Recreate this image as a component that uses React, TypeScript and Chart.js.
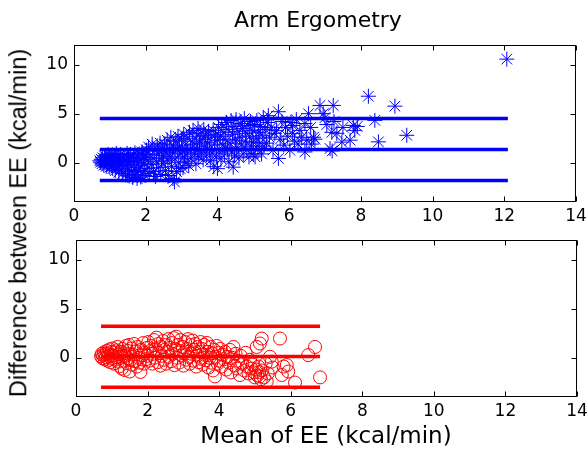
import React, { useEffect, useRef } from 'react';
import { Chart, registerables } from 'chart.js';

Chart.register(...registerables);

const TITLE = 'Arm Ergometry';
const X_LABEL = 'Mean of EE (kcal/min)';
const Y_LABEL = 'Difference between EE (kcal/min)';

const X_TICKS = [0, 2, 4, 6, 8, 10, 12, 14];
const Y_TICKS = [0, 5, 10];
const X_RANGE = [0, 14];
const Y_RANGE = [-4, 12];

// top panel: [mean of EE, difference between EE]
const topPoints: [number, number][] = [
  [0.72, 0.2], [0.74, 0.05], [0.76, 0.35], [0.78, -0.1], [0.8, 0.5], [0.81, 0.15], [0.83, -0.25], [0.85, 0.7],
  [0.86, 0.0], [0.88, 0.3], [0.9, -0.35], [0.91, 0.55], [0.93, 0.1], [0.94, -0.15], [0.95, 0.85], [0.97, 0.4],
  [0.98, -0.05], [0.99, 0.25], [1.0, -0.45], [1.0, 0.65],
  [1.02, 0.1], [1.04, 0.45], [1.05, -0.3], [1.07, 0.8], [1.08, -0.6], [1.1, 0.2], [1.12, 0.55], [1.13, -0.1],
  [1.15, -0.8], [1.17, 0.35], [1.18, 0.95], [1.2, -0.4], [1.22, 0.05], [1.24, 0.6], [1.25, -0.95], [1.27, 0.25],
  [1.29, -0.2], [1.3, 0.85], [1.32, -0.65], [1.34, 0.4], [1.36, -1.1], [1.38, 0.1], [1.4, 0.7], [1.42, -0.35],
  [1.44, -1.25], [1.46, 0.3], [1.48, 0.95], [1.5, -0.75], [1.5, 0.0],
  [1.52, 0.5], [1.54, -1.35], [1.56, -0.2], [1.58, 0.85], [1.6, -0.9], [1.62, 0.2], [1.64, -1.5], [1.66, 0.6],
  [1.68, -0.5], [1.7, 1.0], [1.72, -1.2], [1.74, 0.05], [1.76, -1.6], [1.78, 0.45], [1.8, -0.8], [1.82, 0.9],
  [1.84, -0.3], [1.86, -1.45], [1.88, 0.3], [1.9, 1.1], [1.92, -0.9], [1.94, 0.6], [1.96, -0.1], [1.98, -1.3], [2.0, 0.85],
  [2.02, 1.3], [2.04, -0.6], [2.06, 0.3], [2.08, 1.6], [2.1, -1.1], [2.12, 0.8], [2.15, -0.2], [2.18, 1.9],
  [2.2, 0.5], [2.22, -0.9], [2.25, 1.2], [2.27, -1.4], [2.3, 0.1], [2.32, 1.7], [2.35, -0.5], [2.37, 0.9],
  [2.4, 2.0], [2.42, -1.2], [2.44, 0.4], [2.46, 1.4], [2.48, -0.1], [2.5, 0.7],
  [2.52, 1.9], [2.55, -0.8], [2.57, 1.1], [2.6, 2.3], [2.62, 0.2], [2.64, -1.3], [2.66, 1.5], [2.68, 0.6],
  [2.7, 2.6], [2.72, -0.4], [2.74, 1.0], [2.76, -1.6], [2.78, 1.8], [2.8, -1.95], [2.82, 0.4], [2.84, 2.2],
  [2.86, -0.9], [2.88, 1.3], [2.9, 2.7], [2.92, 0.0], [2.94, 1.6], [2.96, -0.6], [2.98, 0.9], [3.0, 2.4],
  [3.02, 1.2], [3.04, -0.5], [3.06, 2.9], [3.08, 0.6], [3.1, 1.8], [3.12, 0.1], [3.15, 2.5], [3.17, 1.0],
  [3.2, -0.3], [3.22, 3.1], [3.25, 1.5], [3.27, 0.4], [3.3, 2.2], [3.32, 3.3], [3.35, 0.9], [3.37, 1.9],
  [3.4, -0.1], [3.42, 2.7], [3.44, 1.3], [3.46, 3.5], [3.48, 0.6], [3.5, 2.0],
  [3.52, 3.0], [3.55, 1.1], [3.57, 2.4], [3.6, 0.3], [3.62, 3.4], [3.65, 1.7], [3.67, 2.8], [3.7, 0.8],
  [3.72, 2.1], [3.75, 3.2], [3.78, 1.4], [3.8, 0.2], [3.82, 2.6], [3.85, 1.0], [3.88, 3.3], [3.9, -0.4],
  [3.92, 1.9], [3.95, 2.9], [3.97, 0.6], [4.0, -0.6], [4.0, 2.3],
  [4.03, 3.6], [4.05, 1.2], [4.08, 2.7], [4.1, 0.4], [4.12, 3.9], [4.15, 1.8], [4.18, 3.1], [4.2, 0.9],
  [4.22, 2.4], [4.25, 4.1], [4.28, 1.5], [4.3, 3.4], [4.32, 0.1], [4.35, 2.0], [4.38, 4.3], [4.4, 1.1],
  [4.42, 2.9], [4.44, -0.45], [4.46, 3.7], [4.48, 0.7], [4.5, 2.3],
  [4.52, 4.4], [4.54, 1.6], [4.57, 3.2], [4.6, 0.5], [4.62, 2.6], [4.65, 4.0], [4.68, 1.9], [4.7, 3.5],
  [4.72, 0.9], [4.75, 4.5], [4.78, 2.2], [4.8, 3.0], [4.82, 1.3], [4.85, 3.8], [4.88, 0.6], [4.9, 2.7],
  [4.92, 4.2], [4.95, 1.7], [4.97, 3.3], [5.0, 0.9], [5.0, 2.1],
  [5.03, 3.9], [5.05, 0.6], [5.08, 2.5], [5.1, 4.3], [5.13, 1.4], [5.15, 3.1], [5.18, 2.0], [5.2, 3.7],
  [5.23, 0.9], [5.25, 2.8], [5.28, 4.6], [5.3, 1.7], [5.33, 3.4], [5.37, 2.0], [5.4, 4.1], [5.42, 4.8],
  [5.45, 2.6], [5.5, 3.6], [5.55, 1.3], [5.6, 3.0],
  [5.65, 3.3], [5.7, 0.44], [5.7, 5.2], [5.75, 2.4], [5.8, 4.2], [5.85, 1.8], [5.9, 3.6], [5.95, 2.7],
  [6.02, 1.28], [6.05, 4.1], [6.1, 3.0], [6.1, 3.8], [6.15, 2.2], [6.2, 4.4], [6.25, 1.9], [6.3, 3.3],
  [6.35, 2.6], [6.44, 1.1], [6.44, 4.0], [6.49, 2.3], [6.54, 5.0],
  [6.6, 3.6], [6.62, 1.9], [6.68, 2.6], [6.72, 2.4], [6.86, 5.84], [6.95, 5.0], [7.0, 4.6], [7.05, 3.9],
  [7.14, 1.45], [7.19, 3.1], [7.2, 1.2], [7.23, 5.84], [7.25, 4.2], [7.33, 3.0], [7.47, 2.1], [7.5, 3.6],
  [7.7, 2.3], [7.79, 3.81], [7.83, 3.3], [7.9, 3.7], [8.21, 6.78], [8.39, 4.32], [8.49, 2.13], [8.95, 5.77],
  [9.28, 2.8], [12.07, 10.56],
];
const topLimits = [4.5, 1.35, -1.8];
const topLineX = [0.72, 12.1];

// bottom panel: [mean of EE, difference between EE]
const bottomPoints: [number, number][] = [
  [0.7, 0.15], [0.72, 0.4], [0.74, -0.05], [0.76, 0.25], [0.78, 0.55], [0.8, -0.15], [0.82, 0.35], [0.84, 0.05],
  [0.86, 0.7], [0.88, -0.3], [0.9, 0.45], [0.92, 0.15], [0.94, 0.85], [0.96, -0.45], [0.98, 0.3], [1.0, 0.6], [1.0, -0.1],
  [1.02, 0.95], [1.04, 0.2], [1.06, -0.6], [1.08, 0.5], [1.1, -0.2], [1.12, 0.75], [1.14, 0.05], [1.16, 1.1],
  [1.18, -0.4], [1.2, 0.35], [1.22, -0.85], [1.24, 0.6], [1.26, 0.1], [1.28, -1.1], [1.3, 0.9], [1.32, -0.3],
  [1.34, 0.45], [1.36, -1.25], [1.38, 0.2], [1.4, 1.2], [1.42, -0.55], [1.44, 0.7], [1.46, -0.05], [1.48, 1.3],
  [1.5, -1.4], [1.5, 0.4],
  [1.52, -0.25], [1.55, 0.95], [1.57, -0.7], [1.6, 0.3], [1.62, 1.4], [1.65, -0.35], [1.68, 0.65], [1.7, -0.9],
  [1.72, 1.1], [1.75, 0.0], [1.78, -0.5], [1.8, -1.45], [1.82, 0.8], [1.85, 0.25], [1.88, 1.5], [1.9, -0.6],
  [1.92, 0.5], [1.95, -0.15], [1.98, 1.0], [2.0, 0.2],
  [2.02, 1.6], [2.05, -0.3], [2.08, 0.7], [2.1, 1.2], [2.13, -0.6], [2.15, 0.4], [2.18, 1.8], [2.2, 0.0],
  [2.23, 0.9], [2.25, 2.05], [2.28, -0.45], [2.3, 1.4], [2.33, 0.5], [2.36, -0.8], [2.38, 1.1], [2.4, 0.2],
  [2.43, 1.7], [2.46, -0.2], [2.48, 0.8], [2.5, 1.3],
  [2.52, -0.6], [2.55, 0.6], [2.58, 1.9], [2.6, 0.1], [2.63, 1.0], [2.66, -0.35], [2.68, 1.5], [2.7, 0.4],
  [2.73, 2.0], [2.75, -0.75], [2.78, 0.9], [2.8, 2.15], [2.82, 0.0], [2.85, 1.3], [2.88, -0.5], [2.9, 0.7],
  [2.92, 1.8], [2.95, 0.2], [2.98, 1.1], [3.0, -0.8],
  [3.02, 0.5], [3.05, 1.6], [3.08, -0.2], [3.1, 0.9], [3.13, 1.9], [3.15, 0.1], [3.18, -0.6], [3.2, 1.3],
  [3.23, 0.4], [3.26, 1.75], [3.28, -0.3], [3.3, 0.8], [3.33, 1.4], [3.36, -0.9], [3.38, 0.2], [3.4, 1.1],
  [3.43, -0.45], [3.46, 0.6], [3.48, 1.6], [3.5, -0.1],
  [3.52, 0.9], [3.55, -0.7], [3.58, 1.3], [3.6, 0.3], [3.63, -0.25], [3.66, 1.5], [3.68, 0.6], [3.7, -1.0],
  [3.73, 0.0], [3.76, 1.1], [3.78, -0.5], [3.8, 0.45], [3.83, -1.3], [3.86, 0.8], [3.88, -1.9], [3.9, 0.1],
  [3.93, 1.2], [3.96, -0.6], [3.98, 0.5], [4.0, -0.3],
  [4.03, 0.9], [4.06, -0.9], [4.1, 0.3], [4.13, -0.15], [4.16, 0.6], [4.2, -1.2], [4.23, 0.1], [4.27, -0.5],
  [4.3, 0.8], [4.33, -1.5], [4.36, 0.0], [4.4, 1.1], [4.43, -0.8], [4.46, 0.4], [4.5, -1.1], [4.53, -0.3],
  [4.58, -1.76], [4.6, 0.2],
  [4.65, -0.6], [4.7, -1.3], [4.74, 0.5], [4.78, -0.9], [4.82, -1.6], [4.86, -0.2], [4.9, -1.1], [4.94, -0.7],
  [4.98, -1.5], [5.0, -2.0], [5.03, -1.2], [5.05, 1.1], [5.07, -1.8], [5.1, -0.9], [5.12, -1.45], [5.14, 1.45],
  [5.14, -1.9], [5.17, -2.2], [5.19, 1.96], [5.2, -1.3], [5.25, -2.0], [5.3, -0.6], [5.33, -2.4], [5.36, -1.6],
  [5.42, 0.1], [5.47, -0.4], [5.5, -1.0],
  [5.7, 1.96], [5.75, -1.76], [5.8, -0.9], [5.89, -0.74], [5.93, -1.4], [6.12, -2.53], [6.49, 0.27], [6.68, 1.1],
  [6.82, -2.0],
];
const bottomLimits = [3.2, 0.13, -3.0];
const bottomLineX = [0.7, 6.82];

const BLUE = 'rgb(0,0,255)';
const RED = 'rgb(255,0,0)';
const TICK_FONT = { family: '"DejaVu Sans", sans-serif', size: 17 };

const frameTicks = {
  id: 'frameTicks',
  afterDatasetsDraw(chart: any) {
    const { ctx, chartArea, scales } = chart;
    const l = Math.round(chartArea.left) + 0.5;
    const r = Math.round(chartArea.right) - 0.5;
    const t = Math.round(chartArea.top) + 0.5;
    const b = Math.round(chartArea.bottom) - 0.5;
    ctx.save();
    ctx.strokeStyle = '#000';
    ctx.lineWidth = 1;
    ctx.strokeRect(l, t, r - l, b - t);
    ctx.beginPath();
    for (const v of X_TICKS) {
      const p = Math.round(scales.x.getPixelForValue(v)) + 0.5;
      ctx.moveTo(p, b); ctx.lineTo(p, b - 5);
      ctx.moveTo(p, t); ctx.lineTo(p, t + 5);
    }
    for (const v of Y_TICKS) {
      const p = Math.round(scales.y.getPixelForValue(v)) + 0.5;
      ctx.moveTo(l, p); ctx.lineTo(l + 5, p);
      ctx.moveTo(r, p); ctx.lineTo(r - 5, p);
    }
    ctx.stroke();
    ctx.restore();
  },
};

function makeChart(
  canvas: HTMLCanvasElement,
  points: [number, number][],
  limits: number[],
  lineX: number[],
  color: string,
  pointStyle: string,
  radius: number,
  box: { left: number; right: number; top: number; xHeight: number }
) {
  const lineSets = limits.map((v) => ({
    type: 'line' as const,
    data: [{ x: lineX[0], y: v }, { x: lineX[1], y: v }],
    borderColor: color,
    backgroundColor: color,
    borderWidth: 3.5,
    pointRadius: 0,
    showLine: true,
    order: 0,
  }));
  return new Chart(canvas, {
    type: 'scatter',
    data: {
      datasets: [
        ...lineSets,
        {
          data: points.map(([x, y]) => ({ x, y })),
          pointStyle: pointStyle as any,
          pointRadius: radius,
          pointBorderWidth: 1,
          pointBorderColor: color,
          pointBackgroundColor: 'rgba(0,0,0,0)',
          showLine: false,
          order: 1,
        } as any,
      ],
    },
    options: {
      responsive: false,
      animation: false,
      events: [],
      layout: { padding: { left: 0, right: box.right, top: box.top, bottom: 0 } },
      plugins: { legend: { display: false }, tooltip: { enabled: false }, title: { display: false } },
      scales: {
        x: {
          type: 'linear',
          min: X_RANGE[0],
          max: X_RANGE[1],
          grid: { display: false, drawTicks: false },
          border: { display: false },
          ticks: { font: TICK_FONT, color: '#000', padding: 4, maxRotation: 0, autoSkip: false },
          afterBuildTicks: (s: any) => { s.ticks = X_TICKS.map((value) => ({ value })); },
          afterFit: (s: any) => { s.height = box.xHeight; s.paddingLeft = 0; s.paddingRight = 0; },
        },
        y: {
          type: 'linear',
          min: Y_RANGE[0],
          max: Y_RANGE[1],
          grid: { display: false, drawTicks: false },
          border: { display: false },
          ticks: { font: TICK_FONT, color: '#000', padding: 6 },
          afterBuildTicks: (s: any) => { s.ticks = Y_TICKS.map((value) => ({ value })); },
          afterFit: (s: any) => { s.width = box.left; s.paddingTop = 0; s.paddingBottom = 0; },
        },
      },
    },
    plugins: [frameTicks],
  });
}

export default function App() {
  const topRef = useRef<HTMLCanvasElement>(null);
  const botRef = useRef<HTMLCanvasElement>(null);

  useEffect(() => {
    const c1 = makeChart(topRef.current!, topPoints, topLimits, topLineX, BLUE, 'star', 7.5,
      { left: 74, right: 11, top: 45, xHeight: 23 });
    const c2 = makeChart(botRef.current!, bottomPoints, bottomLimits, bottomLineX, RED, 'circle', 6.5,
      { left: 76, right: 10, top: 15, xHeight: 53 });
    return () => { c1.destroy(); c2.destroy(); };
  }, []);

  return (
    <div style={{ position: 'absolute', left: 0, top: 0, width: 587, height: 450, background: '#fff', overflow: 'hidden' }}>
      <canvas ref={topRef} width={587} height={225} style={{ position: 'absolute', left: 0, top: 0, display: 'block' }} />
      <canvas ref={botRef} width={587} height={225} style={{ position: 'absolute', left: 0, top: 225, display: 'block' }} />
      <div style={{
        position: 'absolute', left: 318, top: 8.7, transform: 'translateX(-50%)', whiteSpace: 'nowrap',
        fontFamily: '"DejaVu Sans", sans-serif', fontSize: 22, lineHeight: '22px', color: '#000',
      }}>{TITLE}</div>
      <div style={{
        position: 'absolute', left: 326, top: 423.8, transform: 'translateX(-50%)', whiteSpace: 'nowrap',
        fontFamily: '"DejaVu Sans", sans-serif', fontSize: 23, lineHeight: '23px', color: '#000',
      }}>{X_LABEL}</div>
      <div style={{
        position: 'absolute', left: 18.5, top: 223, transform: 'translate(-50%, -50%) rotate(-90deg)', whiteSpace: 'nowrap',
        fontFamily: '"Liberation Sans", Arial, sans-serif', fontSize: 23.5, lineHeight: '23.5px', color: '#000',
      }}>{Y_LABEL}</div>
    </div>
  );
}
